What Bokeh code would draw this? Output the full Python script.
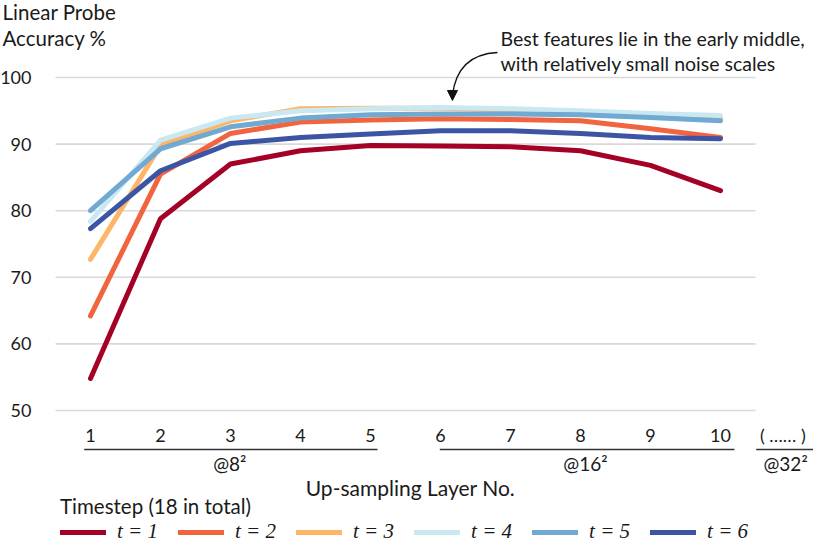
from bokeh.plotting import figure
from bokeh.models import Range1d, Legend, LegendItem, Arrow, NormalHead
from bokeh.core.properties import value
from bokeh.embed import file_html
from bokeh.resources import INLINE

FONT = "Lato"
TXT = "#1a1a1a"

# ---- data ----
layers = [1, 2, 3, 4, 5, 6, 7, 8, 9, 10]
t1 = [54.8, 78.8, 87.0, 89.0, 89.8, 89.7, 89.6, 89.0, 86.8, 83.0]
t2 = [64.2, 85.5, 91.6, 93.3, 93.6, 93.8, 93.7, 93.5, 92.3, 91.0]
t3 = [72.7, 89.8, 93.5, 95.3, 95.4, 95.4, 95.1, 94.8, 94.2, 93.8]
t4 = [78.4, 90.6, 93.9, 95.0, 95.3, 95.5, 95.3, 95.0, 94.6, 94.3]
t5 = [80.0, 89.3, 92.6, 93.9, 94.4, 94.5, 94.5, 94.4, 94.0, 93.5]
t6 = [77.3, 86.0, 90.1, 91.0, 91.5, 92.0, 92.0, 91.6, 91.0, 90.8]
series = [t1, t2, t3, t4, t5, t6]
series_labels = ["t = 1", "t = 2", "t = 3", "t = 4", "t = 5", "t = 6"]
colors = ["#a50026", "#f0653f", "#fdb567", "#c9e8f1", "#70a9d2", "#3b54a4"]

y_ticks = [50, 60, 70, 80, 90, 100]
y_tick_labels = [str(v) for v in y_ticks]
x_tick_labels = [str(v) for v in layers]
extra_tick_x = [10.89]
extra_tick_label = ["( …… )"]

group_labels = ["@8²", "@16²", "@32²"]
group_centers = [2.99, 8.07, 10.93]
group_x0 = [0.91, 5.99, 10.51]
group_x1 = [5.10, 10.20, 11.33]

y_title_lines = ["Linear Probe", "Accuracy %"]
x_title = "Up-sampling Layer No."
legend_title = "Timestep (18 in total)"
note_lines = ["Best features lie in the early middle,", "with relatively small noise scales"]

# ---- layout (data units) ----
X_RANGE = (-0.2857, 11.3286)
Y_RANGE = (29.88, 111.56)
GRID_X = (0.5, 10.5)
Y_LABEL_X = 0.157
X_LABEL_Y = 46.25
GROUP_LINE_Y = 44.14
GROUP_LABEL_Y = 42.04
X_TITLE_X = 5.571
X_TITLE_Y = 38.44
Y_TITLE_X = -0.257
Y_TITLE_Y = [109.9, 105.9]
NOTE_X = 6.857
NOTE_Y = [105.86, 102.1]
ARROW_START = (6.814, 103.75)
ARROW_CTRL = (6.243, 103.45)
ARROW_TIP = (6.171, 96.55)

p = figure(width=813, height=544, x_range=Range1d(*X_RANGE), y_range=Range1d(*Y_RANGE),
           x_axis_location=None, y_axis_location=None, toolbar_location=None,
           output_backend="svg", min_border=0)
p.outline_line_color = None
p.background_fill_color = "white"
p.border_fill_color = "white"
p.xgrid.visible = False
p.ygrid.visible = False

# gridlines
p.segment(x0=[GRID_X[0]] * len(y_ticks), x1=[GRID_X[1]] * len(y_ticks), y0=y_ticks, y1=y_ticks,
          line_color="#d9d9d9", line_width=1.6)

# y tick labels
p.text(x=[Y_LABEL_X] * len(y_ticks), y=y_ticks, text=y_tick_labels, text_align="right",
       text_baseline="middle", text_font=value(FONT), text_font_size="18px", text_color=TXT)

# x tick labels
p.text(x=layers + extra_tick_x, y=[X_LABEL_Y] * (len(layers) + 1), text=x_tick_labels + extra_tick_label,
       text_align="center", text_baseline="middle", text_font=value(FONT), text_font_size="18px",
       text_color=TXT)

# group lines and labels
p.segment(x0=group_x0, x1=group_x1, y0=[GROUP_LINE_Y] * 3, y1=[GROUP_LINE_Y] * 3,
          line_color="#333333", line_width=1.5)
p.text(x=group_centers, y=[GROUP_LABEL_Y] * 3, text=group_labels, text_align="center",
       text_baseline="middle", text_font=value(FONT), text_font_size="19px", text_color=TXT)

# axis titles
p.text(x=[X_TITLE_X], y=[X_TITLE_Y], text=[x_title], text_align="center",
       text_baseline="middle", text_font=value(FONT), text_font_size="21px", text_color=TXT)
p.text(x=[Y_TITLE_X] * 2, y=Y_TITLE_Y, text=y_title_lines, text_align="left",
       text_baseline="middle", text_font=value(FONT), text_font_size="20.5px", text_color=TXT)

# series
items = []
for vals, lab, col in zip(series, series_labels, colors):
    r = p.line(layers, vals, line_color=col, line_width=5, line_cap="round", line_join="round")
    items.append(LegendItem(label=lab, renderers=[r]))

# annotation
p.text(x=[NOTE_X] * 2, y=NOTE_Y, text=note_lines, text_align="left", text_baseline="middle",
       text_font=value(FONT), text_font_size="19.5px", text_color=TXT)
p.quadratic(x0=[ARROW_START[0]], y0=[ARROW_START[1]], x1=[ARROW_TIP[0]], y1=[ARROW_TIP[1] + 0.8],
            cx=[ARROW_CTRL[0]], cy=[ARROW_CTRL[1]], line_color="#111111", line_width=1.3)
p.add_layout(Arrow(x_start=ARROW_TIP[0], y_start=ARROW_TIP[1] + 1.2, x_end=ARROW_TIP[0], y_end=ARROW_TIP[1],
                   line_color="#111111", line_width=1.3,
                   end=NormalHead(size=10, fill_color="#111111", line_color="#111111")))

legend = Legend(items=items, orientation="horizontal", location=(60, 0),
                title=legend_title, title_text_font=FONT, title_text_font_size="20.5px",
                title_text_font_style="normal", title_text_color=TXT, title_standoff=1,
                label_text_font="Liberation Serif", label_text_font_style="italic",
                label_text_font_size="21px", label_text_color=TXT,
                glyph_width=46, glyph_height=20, label_standoff=11, spacing=20,
                padding=0, margin=0, border_line_color=None, background_fill_alpha=0)
p.add_layout(legend)

open("out.html", "w").write(file_html(p, INLINE))
